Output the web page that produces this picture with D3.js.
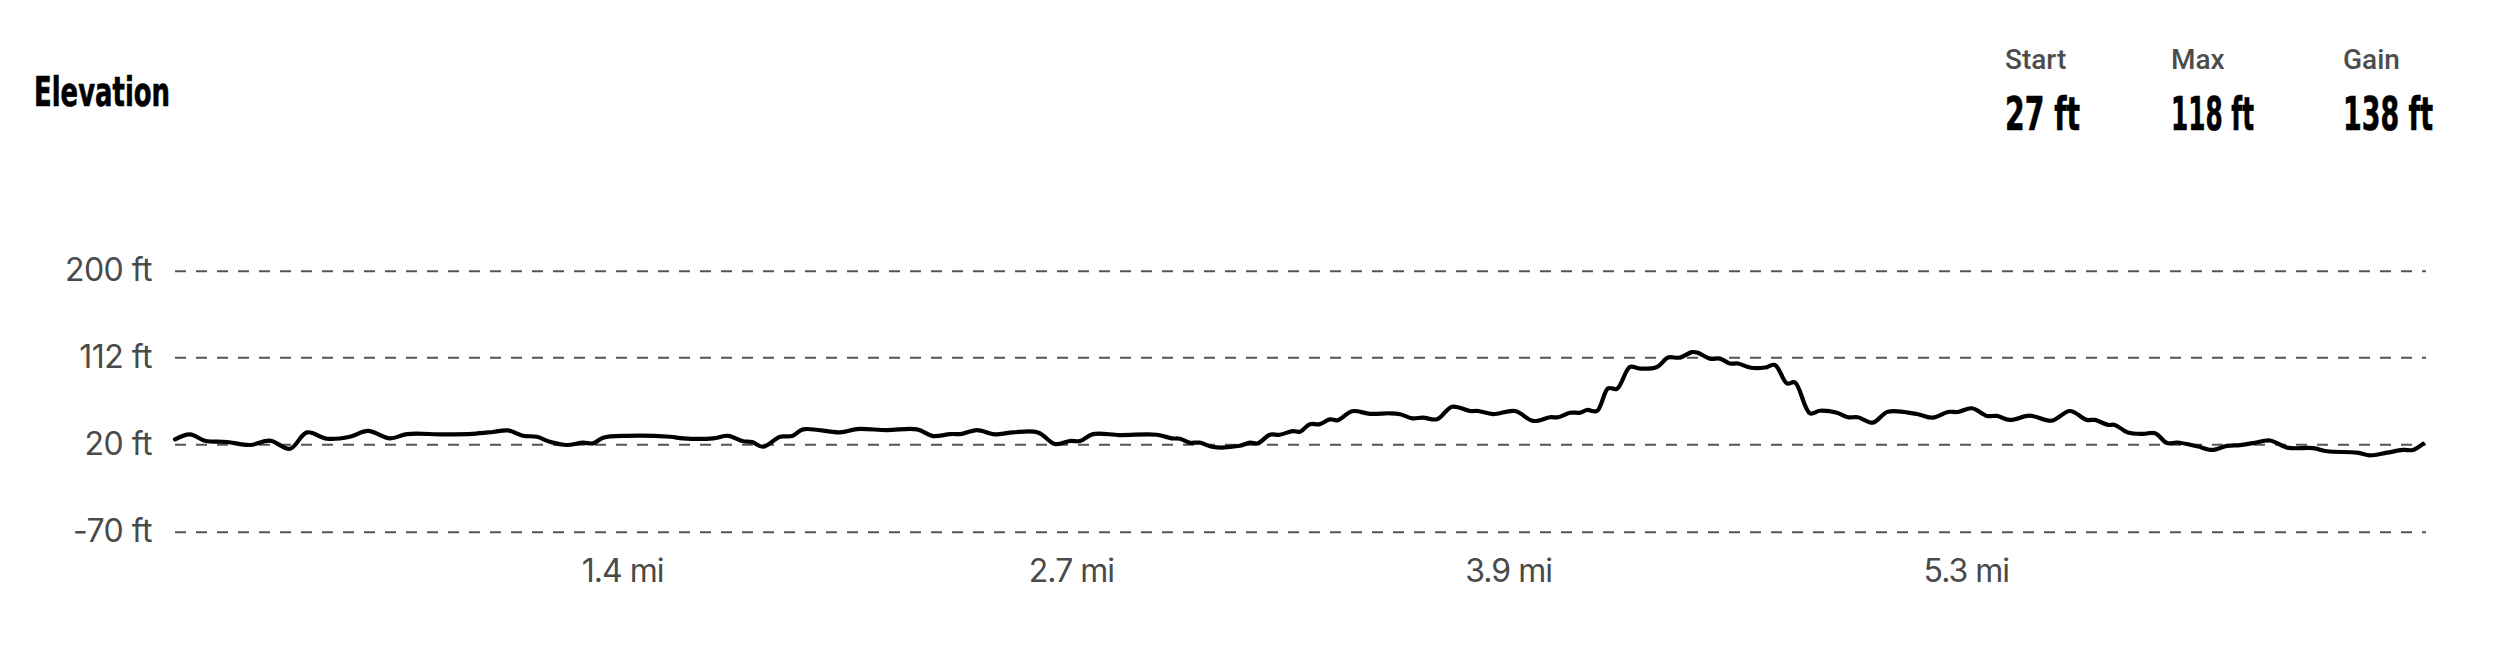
<!DOCTYPE html>
<html>
<head>
<meta charset="utf-8">
<script src="https://cdn.jsdelivr.net/npm/d3@7"></script>
<style>
  html, body { margin: 0; padding: 0; background: #fff; }
  svg { display: block; }
</style>
</head>
<body>
<svg id="chart" width="2500" height="667"></svg>
<script>
// ---- data ----
const title = "Elevation";
const statLabels = ["Start", "Max", "Gain"];
const statValues = ["27 ft", "118 ft", "138 ft"];

const distanceMi = [0,0.045,0.090,0.156,0.225,0.285,0.345,0.396,0.456,0.525,0.579,0.645,0.696,0.804,0.894,0.954,0.999,1.044,1.086,1.125,1.176,1.224,1.255,1.285,1.357,1.486,1.525,1.615,1.660,1.705,1.732,1.765,1.816,1.852,1.885,1.996,2.047,2.137,2.227,2.275,2.326,2.362,2.407,2.461,2.515,2.590,2.641,2.686,2.716,2.755,2.836,2.947,2.992,3.016,3.046,3.076,3.116,3.196,3.226,3.250,3.286,3.316,3.355,3.376,3.406,3.436,3.466,3.490,3.533,3.587,3.647,3.677,3.713,3.746,3.788,3.833,3.887,3.911,3.956,4.022,4.076,4.127,4.151,4.187,4.217,4.238,4.268,4.301,4.328,4.367,4.397,4.448,4.481,4.517,4.553,4.571,4.607,4.637,4.667,4.691,4.727,4.772,4.802,4.838,4.862,4.907,4.937,4.988,5.021,5.051,5.096,5.141,5.228,5.276,5.321,5.351,5.393,5.438,5.468,5.507,5.567,5.633,5.687,5.738,5.762,5.802,5.822,5.861,5.907,5.943,5.979,6.009,6.069,6.114,6.159,6.198,6.237,6.288,6.339,6.417,6.459,6.549,6.588,6.639,6.687,6.717,6.747];
const elevationFt = [25.3,30.5,23.8,22.4,19.3,23.8,15.4,32.6,25.9,28,34.3,26.3,30.8,30.5,31.1,33,34.7,29,28,22.7,19.3,21.7,21,27,29,28,26.3,26.3,29,23.2,22.4,17.5,28,28.7,35.8,32.6,36.1,35,35.8,28.7,30.8,31.1,35,30.5,32.6,32.6,20.3,23.5,23.5,30.8,29.8,30.1,26.3,25.9,21.7,21.7,17.2,18.5,21.7,21,30.1,30.1,34,33.2,41.3,41.3,46.3,45.5,55,52.2,52.8,51.8,47.5,48.2,46.5,59.7,55.2,55.2,52,55.2,44.7,48.6,48.6,53.4,53.4,56.3,55.2,79.1,78.7,101.8,100.1,101.8,111.7,111.7,117.3,116.5,110.6,110.6,105.4,105.4,101.2,101.2,103.9,84.4,85.4,52.8,55.5,53.4,48.6,48.6,42.9,54.5,52,48.2,54.2,54.2,58.1,50,50,45.8,50.3,45,55.2,45.8,45.8,40.5,40.5,32.4,31,31.8,21.3,21.9,18,14.2,18.4,19.2,21.3,24,16.6,16,12.8,11.4,8.6,11.4,14.2,14.2,20.5];

const yTickValues = [-70, 20, 112, 200];
const yTickLabels = ["-70 ft", "20 ft", "112 ft", "200 ft"];
const xTickValues = [1.342, 2.689, 4.001, 5.375];
const xTickLabels = ["1.4 mi", "2.7 mi", "3.9 mi", "5.3 mi"];
const totalMi = 6.75;

// ---- layout ----
const svg = d3.select("#chart");
const plotLeft = 175, plotRight = 2426;

const x = d3.scaleLinear().domain([0, totalMi]).range([plotLeft, plotRight - 2]);
const y = d3.scaleLinear().domain(yTickValues).range([531.7, 444.3, 357.3, 270.7]);

const sans = "Inter, Roboto, 'Noto Sans', sans-serif";
const narrow = "'Liberation Sans Narrow', 'DejaVu Sans Condensed', 'Liberation Sans', sans-serif";

// Title
svg.append("text")
  .attr("x", 34).attr("y", 106)
  .attr("font-family", narrow).attr("font-weight", 700)
  .attr("font-size", 40)
  .attr("textLength", 136).attr("lengthAdjust", "spacingAndGlyphs")
  .attr("fill", "#000")
  .attr("stroke", "#000").attr("stroke-width", 0.6)
  .text(title);

// Stats
const statX = [2005, 2171, 2343];
const valueWidths = [75, 83, 90];
statLabels.forEach((lab, i) => {
  svg.append("text")
    .attr("x", statX[i]).attr("y", 69)
    .attr("font-family", "Roboto, sans-serif").attr("font-size", 28)
    .attr("font-weight", 500)
    .attr("fill", "#4d4d4d")
    .text(lab);
  svg.append("text")
    .attr("x", statX[i]).attr("y", 130)
    .attr("font-family", narrow).attr("font-weight", 700)
    .attr("font-size", 47)
    .attr("textLength", valueWidths[i]).attr("lengthAdjust", "spacingAndGlyphs")
    .attr("fill", "#000")
    .attr("stroke", "#000").attr("stroke-width", 0.6)
    .text(statValues[i]);
});

// Y grid + labels
const yAxis = d3.axisLeft(y)
  .tickValues(yTickValues)
  .tickSize(-(plotRight - plotLeft))
  .tickPadding(23)
  .tickFormat((d, i) => yTickLabels[i]);

const gy = svg.append("g").attr("transform", `translate(${plotLeft},0)`).call(yAxis);
gy.select(".domain").remove();
gy.selectAll(".tick line")
  .attr("stroke", "#555").attr("stroke-width", 2)
  .attr("stroke-dasharray", "11,10");
gy.selectAll(".tick text")
  .attr("font-family", sans).attr("font-size", 32)
  .attr("fill", "#4a4a4a").attr("letter-spacing", -0.5);

// X axis labels
const xAxis = d3.axisBottom(x)
  .tickValues(xTickValues)
  .tickSize(0)
  .tickFormat((d, i) => xTickLabels[i]);
const gx = svg.append("g").attr("transform", `translate(0,${556})`).call(xAxis);
gx.select(".domain").remove();
gx.selectAll(".tick text")
  .attr("font-family", sans).attr("font-size", 32)
  .attr("fill", "#4a4a4a").attr("letter-spacing", -1);

// Line
const pts = distanceMi.map((d, i) => [d, elevationFt[i]]);
const line = d3.line()
  .x(d => x(d[0]))
  .y(d => y(d[1]))
  .curve(d3.curveCatmullRom.alpha(0.5));

svg.append("path")
  .datum(pts)
  .attr("fill", "none")
  .attr("stroke", "#000")
  .attr("stroke-width", 4.2)
  .attr("stroke-linejoin", "round")
  .attr("stroke-linecap", "round")
  .attr("d", line);
</script>
</body>
</html>
